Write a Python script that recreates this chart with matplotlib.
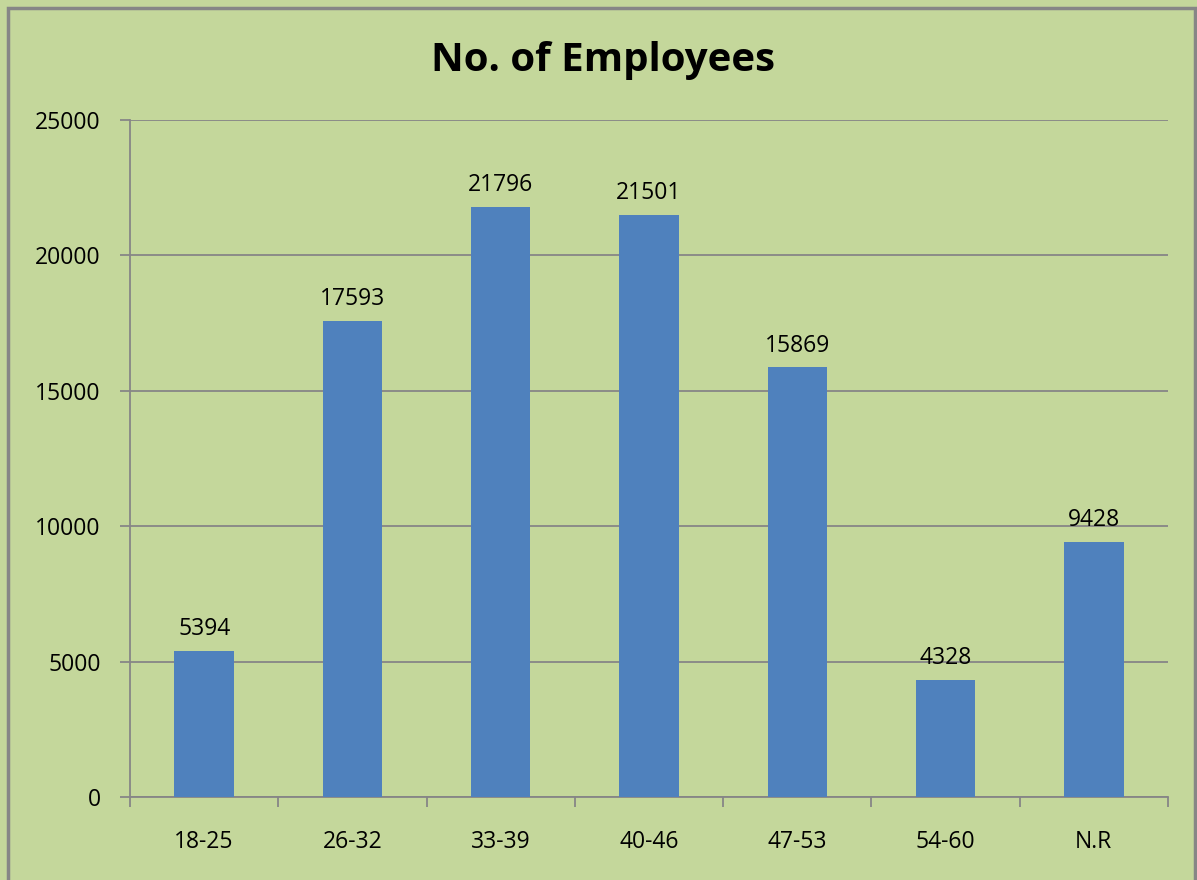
import matplotlib
matplotlib.use("Agg")
import matplotlib.pyplot as plt
from matplotlib.patches import Rectangle
import numpy as np

categories = ["18-25", "26-32", "33-39", "40-46", "47-53", "54-60", "N.R"]
values = [5394, 17593, 21796, 21501, 15869, 4328, 9428]
yticks = [0, 5000, 10000, 15000, 20000, 25000]
title = "No. of Employees"

bg = "#C4D79B"
bar_color = "#4F81BD"
grid_color = "#868686"

plt.rcParams['font.family'] = ['Open Sans', 'DejaVu Sans']

fig = plt.figure(figsize=(11.97, 8.80), dpi=100, facecolor=bg)
ax = fig.add_axes([130/1197, 1-797/880, (1168-130)/1197, (797-120)/880])
ax.set_facecolor(bg)

fs = 16.5
x = np.arange(len(categories))
ax.bar(x, values, width=0.4, color=bar_color, zorder=3)
for xi, v in zip(x, values):
    ax.annotate(str(v), (xi, v), xytext=(0, 7), textcoords="offset points",
                ha="center", va="bottom", fontsize=fs, color="black")

ax.set_xlim(-0.5, len(categories) - 0.5)
ax.set_ylim(0, 25000)
ax.set_yticks(yticks)
ax.set_yticklabels([str(t) for t in yticks], fontsize=fs)
ax.yaxis.grid(True, color=grid_color, linewidth=1.3, zorder=0)
ax.set_axisbelow(True)

ax.set_xticks(x)
ax.set_xticklabels(categories, fontsize=fs)
ax.set_xticks(np.arange(-0.5, len(categories)), minor=True)
ax.tick_params(axis="x", which="major", length=0, pad=24)
ax.tick_params(axis="x", which="minor", length=7, width=1.3, color=grid_color, direction="out")
ax.tick_params(axis="y", length=7, width=1.3, color=grid_color, pad=14)

for s in ["top", "right"]:
    ax.spines[s].set_visible(False)
for s in ["left", "bottom"]:
    ax.spines[s].set_color(grid_color)
    ax.spines[s].set_linewidth(1.3)

fig.text(603/1197, 1-60/880, title, ha="center", va="center",
         fontsize=29, fontweight="bold", color="black")

fig.patches.append(Rectangle((8/1197, -0.01), (1195-8)/1197, 1-8/880+0.01,
                             transform=fig.transFigure, fill=False,
                             edgecolor=grid_color, linewidth=2.5))

fig.savefig("out.png", dpi=100, facecolor=bg)
